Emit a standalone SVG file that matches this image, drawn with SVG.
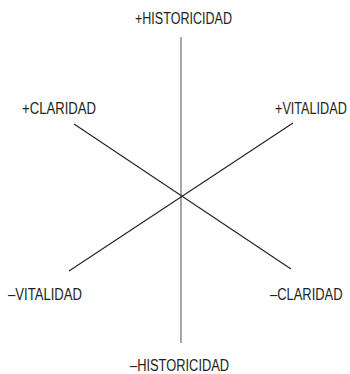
<svg xmlns="http://www.w3.org/2000/svg" width="350" height="374" viewBox="0 0 350 374">
<style>
text{font-family:"Liberation Sans",Arial,sans-serif;font-size:17px;fill:#231f20}
.ax{stroke:#231f20;stroke-width:1.1;fill:none}
.v{stroke:#888;stroke-width:1.5;fill:none}
</style>
<rect width="350" height="374" fill="#fff"/>
<g id="connectors">
<line class="v" x1="181" y1="37" x2="181" y2="343"/>
<line class="ax" x1="74" y1="124" x2="291" y2="269"/>
<line class="ax" x1="293" y1="123" x2="69" y2="271"/>
</g>
<g id="n_hist_plus"><text transform="translate(135,24) scale(0.74,1)" textLength="131" lengthAdjust="spacingAndGlyphs">+HISTORICIDAD</text></g>
<g id="n_clar_plus"><text transform="translate(22,114) scale(0.74,1)" textLength="100" lengthAdjust="spacingAndGlyphs">+CLARIDAD</text></g>
<g id="n_vital_plus"><text transform="translate(275,114) scale(0.74,1)" textLength="97" lengthAdjust="spacingAndGlyphs">+VITALIDAD</text></g>
<g id="n_vital_minus"><text transform="translate(8,300) scale(0.74,1)" textLength="100" lengthAdjust="spacingAndGlyphs">–VITALIDAD</text></g>
<g id="n_clar_minus"><text transform="translate(270,300) scale(0.74,1)" textLength="98" lengthAdjust="spacingAndGlyphs">–CLARIDAD</text></g>
<g id="n_hist_minus"><text transform="translate(130,371) scale(0.74,1)" textLength="134" lengthAdjust="spacingAndGlyphs">–HISTORICIDAD</text></g>
</svg>
